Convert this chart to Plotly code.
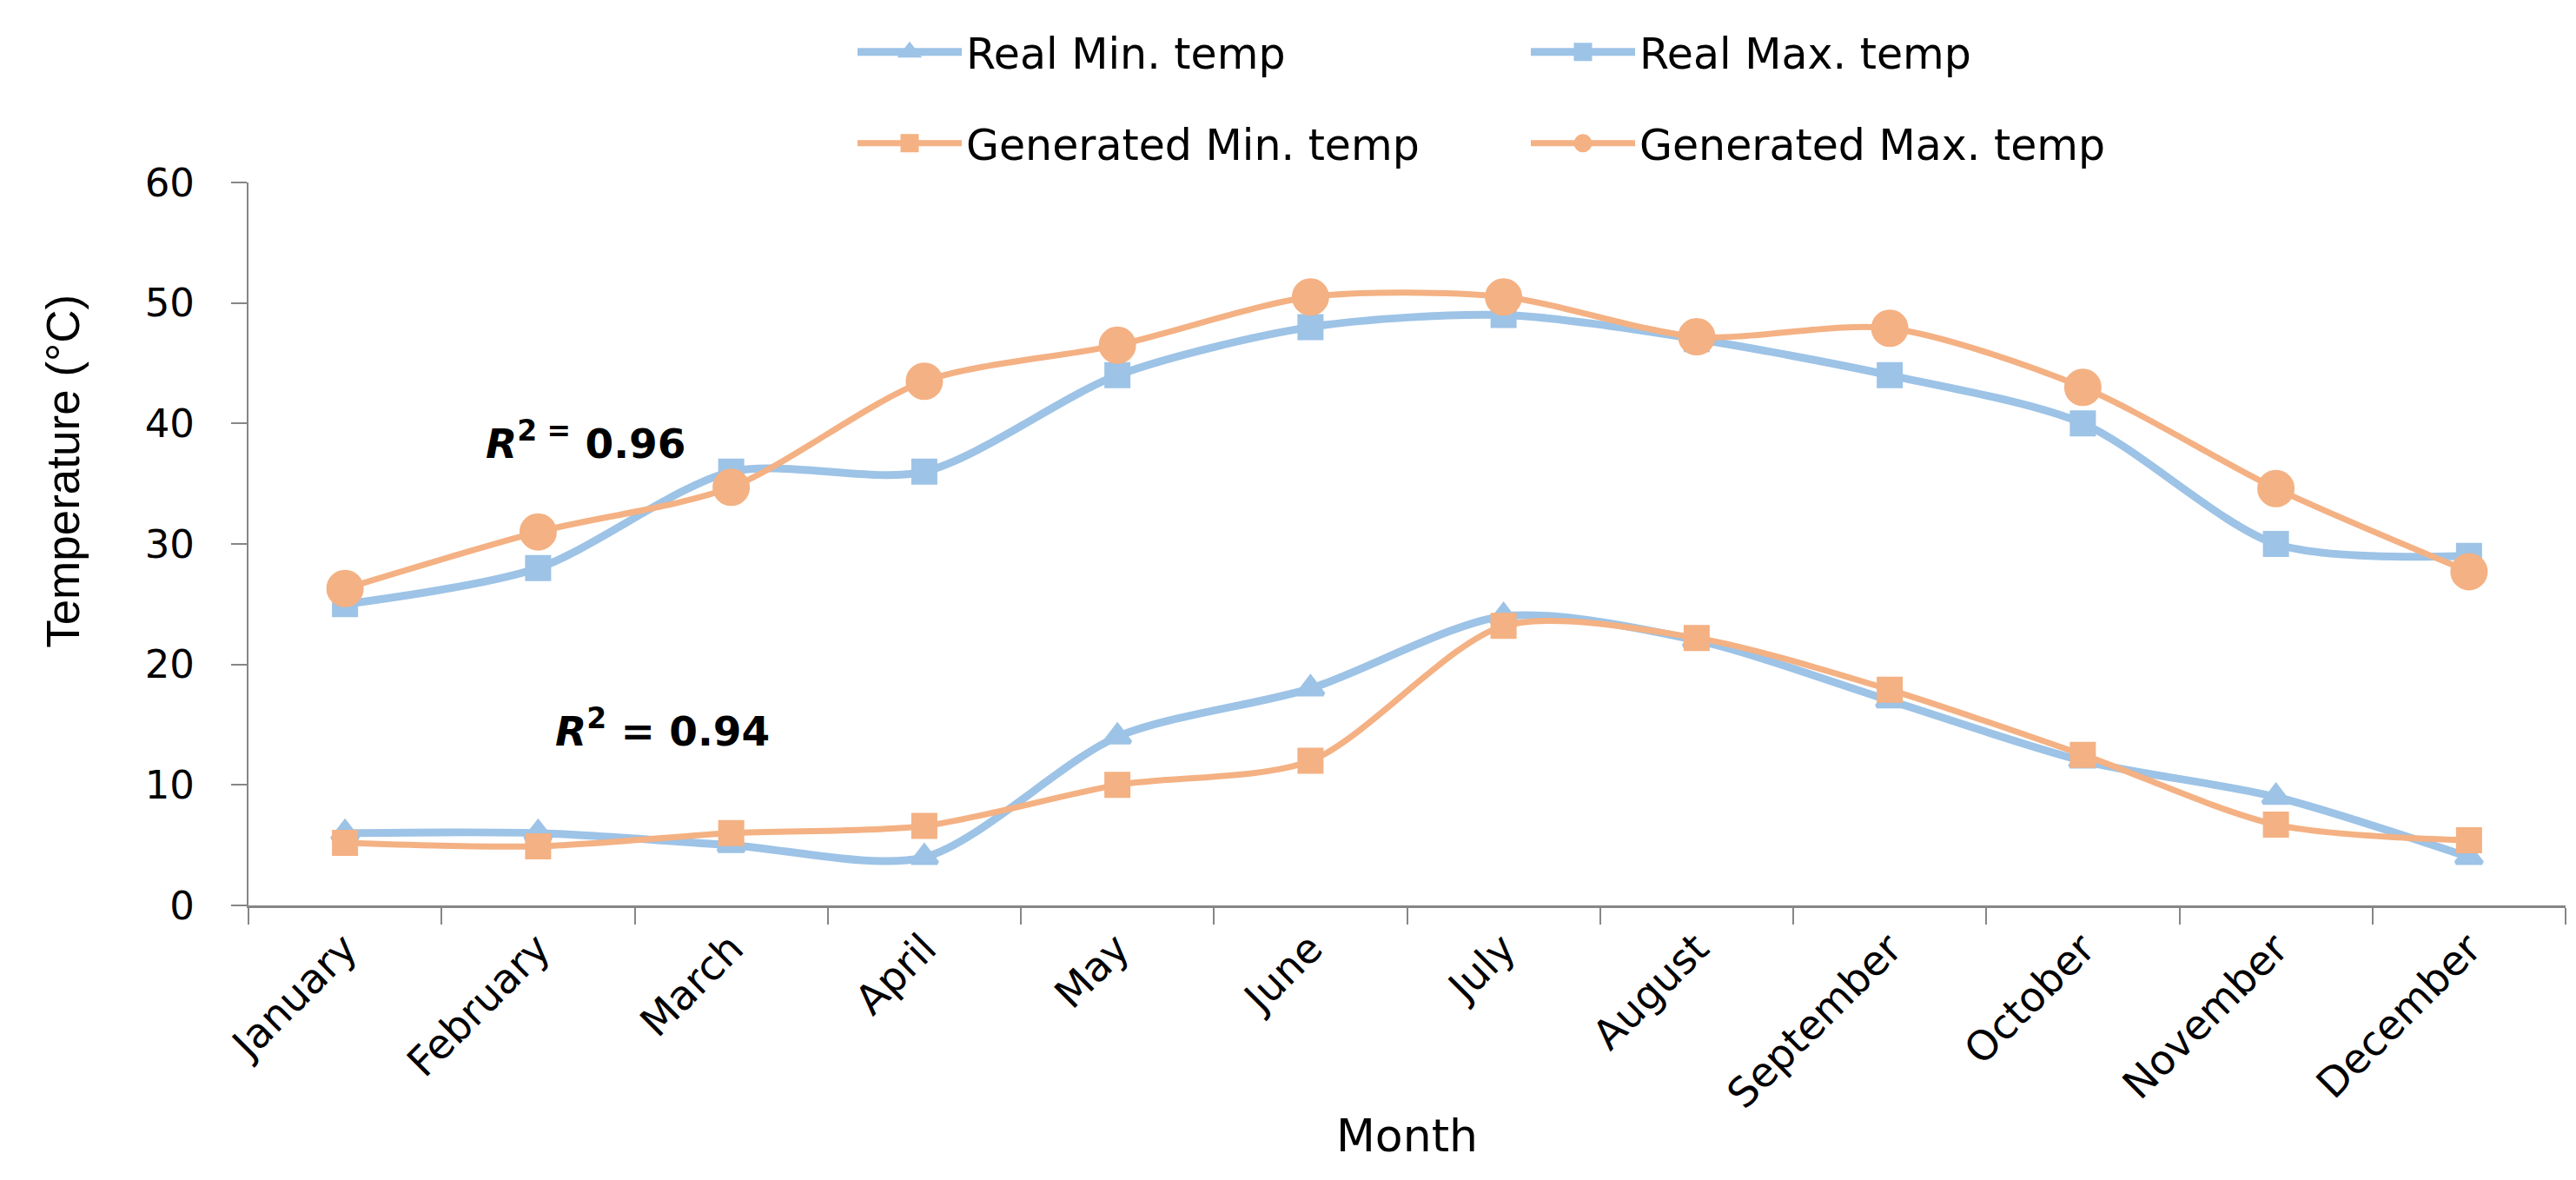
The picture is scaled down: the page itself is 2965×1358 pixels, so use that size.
import plotly.graph_objects as go

months = ["January", "February", "March", "April", "May", "June", "July",
          "August", "September", "October", "November", "December"]
real_min = [6, 6, 5, 4, 14, 18, 24, 22, 17, 12, 9, 4]
real_max = [25, 28, 36, 36, 44, 48, 49, 47, 44, 40, 30, 29]
gen_min = [5.2, 4.9, 6.0, 6.6, 10.0, 12.0, 23.2, 22.2, 17.9, 12.5, 6.7, 5.4]
gen_max = [26.3, 31.0, 34.7, 43.5, 46.5, 50.5, 50.5, 47.2, 47.9, 43.0, 34.6, 27.7]

BLUE = "#9DC3E6"
ORANGE = "#F4B183"
FONT = "DejaVu Sans"
AXIS_GREY = "#868686"

fig = go.Figure()
fig.add_trace(go.Scatter(x=months, y=real_min, name="Real Min. temp", mode="lines+markers",
                         line=dict(color=BLUE, width=9, shape="spline", smoothing=0.8),
                         marker=dict(symbol="triangle-up", size=26, color=BLUE,
                                     line=dict(color=BLUE, width=5)),
                         legend="legend"))
fig.add_trace(go.Scatter(x=months, y=real_max, name="Real Max. temp", mode="lines+markers",
                         line=dict(color=BLUE, width=9, shape="spline", smoothing=0.8),
                         marker=dict(symbol="square", size=25, color=BLUE,
                                     line=dict(color=BLUE, width=5)),
                         legend="legend"))
fig.add_trace(go.Scatter(x=months, y=gen_min, name="Generated Min. temp", mode="lines+markers",
                         line=dict(color=ORANGE, width=7, shape="spline", smoothing=0.8),
                         marker=dict(symbol="square", size=25, color=ORANGE,
                                     line=dict(color=ORANGE, width=5)),
                         legend="legend2"))
fig.add_trace(go.Scatter(x=months, y=gen_max, name="Generated Max. temp", mode="lines+markers",
                         line=dict(color=ORANGE, width=7, shape="spline", smoothing=0.8),
                         marker=dict(symbol="circle", size=38, color=ORANGE,
                                     line=dict(color=ORANGE, width=5)),
                         legend="legend2"))

legend_common = dict(orientation="h", xanchor="left", yanchor="middle",
                     xref="container", yref="container",
                     font=dict(family=FONT, size=49, color="black"),
                     itemwidth=120, entrywidth=640, bgcolor="rgba(0,0,0,0)",
                     traceorder="normal")

fig.update_layout(
    width=2965, height=1358,
    margin=dict(l=278, r=20, t=202, b=324, autoexpand=False),
    paper_bgcolor="white", plot_bgcolor="white",
    font=dict(family=FONT, size=45, color="black"),
    showlegend=True,
    legend=dict(x=0.3285, y=0.9617, **legend_common),
    legend2=dict(x=0.3285, y=0.8844, **legend_common),
    xaxis=dict(
        type="category", range=[-0.5, 11.5], tickson="boundaries", ticks="outside",
        ticklen=19, tickwidth=2, tickcolor=AXIS_GREY, showline=True, linecolor=AXIS_GREY,
        linewidth=3, showgrid=False, zeroline=False, tickangle=-45,
        tickfont=dict(family=FONT, size=47, color="black"),
        title=dict(text="Month", font=dict(family=FONT, size=52, color="black"), standoff=4),
        automargin=False,
    ),
    yaxis=dict(
        range=[0, 60], dtick=10, tick0=0, ticks="outside", ticklen=18,
        tickwidth=2, tickcolor=AXIS_GREY, showline=True, linecolor=AXIS_GREY,
        linewidth=2, showgrid=False, zeroline=False,
        tickfont=dict(family=FONT, size=45, color="black"),
        ticklabelstandoff=33,
        automargin=False,
    ),
    annotations=[
        dict(text="Temperature (°C)", textangle=-90, xref="paper", yref="paper",
             x=-0.0799, y=0.601, xanchor="center", yanchor="middle", showarrow=False,
             font=dict(family="Liberation Sans", size=53, color="black")),
        dict(text="<b><i>R</i><sup>2 =</sup> 0.96</b>", xref="x", yref="y",
             x=0.72, y=38.6, xanchor="left", yanchor="middle", showarrow=False,
             font=dict(family=FONT, size=47, color="black")),
        dict(text="<b><i>R</i><sup>2</sup> = 0.94</b>", xref="x", yref="y",
             x=1.08, y=14.7, xanchor="left", yanchor="middle", showarrow=False,
             font=dict(family=FONT, size=47, color="black")),
    ],
)

fig.write_html("out.html")
